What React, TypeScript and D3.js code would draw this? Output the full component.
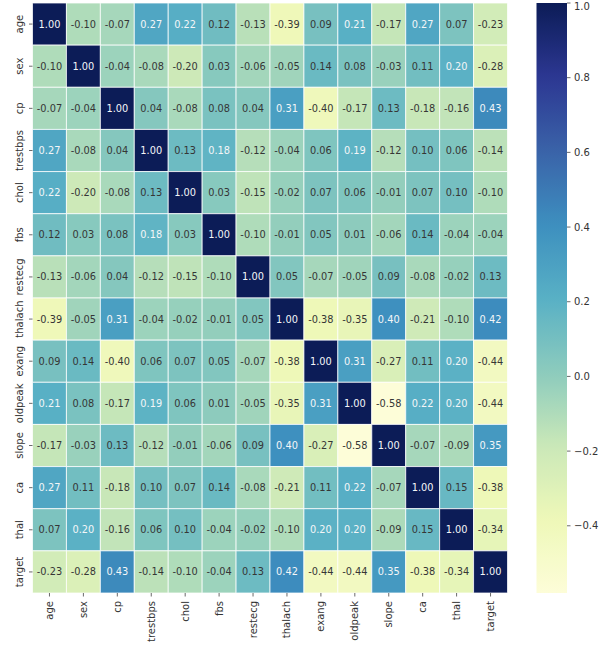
import { useEffect, useRef } from 'react'
import * as d3 from 'd3'

const features = ['age', 'sex', 'cp', 'trestbps', 'chol', 'fbs', 'restecg', 'thalach', 'exang', 'oldpeak', 'slope', 'ca', 'thal', 'target']

const corr: number[][] = [
  [1.00, -0.10, -0.07, 0.27, 0.22, 0.12, -0.13, -0.39, 0.09, 0.21, -0.17, 0.27, 0.07, -0.23],
  [-0.10, 1.00, -0.04, -0.08, -0.20, 0.03, -0.06, -0.05, 0.14, 0.08, -0.03, 0.11, 0.20, -0.28],
  [-0.07, -0.04, 1.00, 0.04, -0.08, 0.08, 0.04, 0.31, -0.40, -0.17, 0.13, -0.18, -0.16, 0.43],
  [0.27, -0.08, 0.04, 1.00, 0.13, 0.18, -0.12, -0.04, 0.06, 0.19, -0.12, 0.10, 0.06, -0.14],
  [0.22, -0.20, -0.08, 0.13, 1.00, 0.03, -0.15, -0.02, 0.07, 0.06, -0.01, 0.07, 0.10, -0.10],
  [0.12, 0.03, 0.08, 0.18, 0.03, 1.00, -0.10, -0.01, 0.05, 0.01, -0.06, 0.14, -0.04, -0.04],
  [-0.13, -0.06, 0.04, -0.12, -0.15, -0.10, 1.00, 0.05, -0.07, -0.05, 0.09, -0.08, -0.02, 0.13],
  [-0.39, -0.05, 0.31, -0.04, -0.02, -0.01, 0.05, 1.00, -0.38, -0.35, 0.40, -0.21, -0.10, 0.42],
  [0.09, 0.14, -0.40, 0.06, 0.07, 0.05, -0.07, -0.38, 1.00, 0.31, -0.27, 0.11, 0.20, -0.44],
  [0.21, 0.08, -0.17, 0.19, 0.06, 0.01, -0.05, -0.35, 0.31, 1.00, -0.58, 0.22, 0.20, -0.44],
  [-0.17, -0.03, 0.13, -0.12, -0.01, -0.06, 0.09, 0.40, -0.27, -0.58, 1.00, -0.07, -0.09, 0.35],
  [0.27, 0.11, -0.18, 0.10, 0.07, 0.14, -0.08, -0.21, 0.11, 0.22, -0.07, 1.00, 0.15, -0.38],
  [0.07, 0.20, -0.16, 0.06, 0.10, -0.04, -0.02, -0.10, 0.20, 0.20, -0.09, 0.15, 1.00, -0.34],
  [-0.23, -0.28, 0.43, -0.14, -0.10, -0.04, 0.13, 0.42, -0.44, -0.44, 0.35, -0.38, -0.34, 1.00],
]

const colorbarTicks = [-0.4, -0.2, 0.0, 0.2, 0.4, 0.6, 0.8, 1.0]

// matplotlib's YlGnBu (linear between the 9 brewer colours), used for the text colour rule
const ylgnbu = ['#ffffd9', '#edf8b1', '#c7e9b4', '#7fcdbb', '#41b6c4', '#1d91c0', '#225ea8', '#253494', '#081d58']
// same ramp, a bit washed out like the screenshot
const ylgnbuShown = ['#fdfdd8', '#eef8b8', '#cae8b8', '#8ccbbd', '#58b0c5', '#3d8fbf', '#3a62a8', '#2c3792', '#0c1c57']

const width = 600
const height = 647

export default function App() {
  const svgRef = useRef<SVGSVGElement>(null)

  useEffect(() => {
    if (!svgRef.current) return
    const svg = d3.select(svgRef.current)
    svg.selectAll('*').remove()

    const left = 32.5, right = 507.5, top = 3, bottom = 593
    const vmin = d3.min(corr.flat()) as number
    const vmax = d3.max(corr.flat()) as number

    const ramp = (stops: string[]) => d3.scaleLinear<string>()
      .domain(d3.range(stops.length).map(i => i / (stops.length - 1)))
      .range(stops)
      .interpolate(d3.interpolateRgb)
    const cmapRef = ramp(ylgnbu)
    const cmap = ramp(ylgnbuShown)
    const norm = d3.scaleLinear().domain([vmin, vmax]).range([0, 1]).clamp(true)
    const color = (v: number) => cmap(norm(v))

    const luminance = (c: string) => {
      const rgb = d3.rgb(c)
      const lin = [rgb.r, rgb.g, rgb.b].map(v => {
        const s = v / 255
        return s <= 0.03928 ? s / 12.92 : Math.pow((s + 0.055) / 1.055, 2.4)
      })
      return 0.2126 * lin[0] + 0.7152 * lin[1] + 0.0722 * lin[2]
    }

    const x = d3.scaleBand<string>().domain(features).range([left, right])
    const y = d3.scaleBand<string>().domain(features).range([top, bottom])

    const cells = corr.flatMap((row, i) => row.map((v, j) => ({ r: features[i], c: features[j], v })))

    const g = svg.append('g')
    g.selectAll('rect.cell')
      .data(cells)
      .enter().append('rect')
      .attr('class', 'cell')
      .attr('x', d => x(d.c)!)
      .attr('y', d => y(d.r)!)
      .attr('width', x.bandwidth())
      .attr('height', y.bandwidth())
      .attr('fill', d => color(d.v))
      .attr('stroke', '#fff')
      .attr('stroke-opacity', 0.75)
      .attr('stroke-width', 1)

    g.selectAll('text.annot')
      .data(cells)
      .enter().append('text')
      .attr('class', 'annot')
      .attr('x', d => x(d.c)! + x.bandwidth() / 2)
      .attr('y', d => y(d.r)! + y.bandwidth() / 2)
      .attr('text-anchor', 'middle')
      .attr('dominant-baseline', 'central')
      .style('font-family', 'DejaVu Sans, sans-serif')
      .style('font-size', '9.8px')
      .style('fill', d => luminance(cmapRef(norm(d.v))) > 0.408 ? '#363636' : '#f4f6f8')
      .text(d => d.v.toFixed(2))

    // y axis
    const yAxis = svg.append('g')
    features.forEach(f => {
      const cy = y(f)! + y.bandwidth() / 2
      yAxis.append('line')
        .attr('x1', left - 3.5).attr('x2', left)
        .attr('y1', cy).attr('y2', cy)
        .attr('stroke', '#444').attr('stroke-width', 0.8)
      yAxis.append('text')
        .attr('transform', `translate(${left - 7},${cy}) rotate(-90)`)
        .attr('text-anchor', 'middle')
        .attr('dy', '-0.25em')
        .style('font-family', 'DejaVu Sans, sans-serif')
        .style('font-size', '10px')
        .style('fill', '#333')
        .text(f)
    })

    // x axis
    const xAxis = svg.append('g')
    features.forEach(f => {
      const cx = x(f)! + x.bandwidth() / 2
      xAxis.append('line')
        .attr('x1', cx).attr('x2', cx)
        .attr('y1', bottom).attr('y2', bottom + 3.5)
        .attr('stroke', '#444').attr('stroke-width', 0.8)
      xAxis.append('text')
        .attr('transform', `translate(${cx},${bottom + 8}) rotate(-90)`)
        .attr('text-anchor', 'end')
        .attr('dominant-baseline', 'central')
        .style('font-family', 'DejaVu Sans, sans-serif')
        .style('font-size', '10px')
        .style('fill', '#333')
        .text(f)
    })

    // colorbar
    const cbLeft = 536.5, cbRight = 567
    const cbScale = d3.scaleLinear().domain([vmin, vmax]).range([bottom, top])
    const defs = svg.append('defs')
    const grad = defs.append('linearGradient')
      .attr('id', 'cbgrad')
      .attr('x1', 0).attr('y1', 1).attr('x2', 0).attr('y2', 0)
    d3.range(0, 1.0001, 0.02).forEach(t => {
      grad.append('stop')
        .attr('offset', t)
        .attr('stop-color', cmap(t))
    })
    svg.append('rect')
      .attr('x', cbLeft).attr('y', top)
      .attr('width', cbRight - cbLeft).attr('height', bottom - top)
      .attr('fill', 'url(#cbgrad)')

    const cb = svg.append('g')
    colorbarTicks.forEach(t => {
      const ty = cbScale(t)
      cb.append('line')
        .attr('x1', cbRight).attr('x2', cbRight + 3.5)
        .attr('y1', ty).attr('y2', ty)
        .attr('stroke', '#444').attr('stroke-width', 0.8)
      cb.append('text')
        .attr('x', cbRight + 7)
        .attr('y', Math.max(ty, 6))
        .attr('dominant-baseline', 'central')
        .style('font-family', 'DejaVu Sans, sans-serif')
        .style('font-size', '10px')
        .style('fill', '#333')
        .text(t < 0 ? '\u2212' + Math.abs(t).toFixed(1) : t.toFixed(1))
    })
  }, [])

  return (
    <svg
      ref={svgRef}
      width={width}
      height={height}
      style={{ position: 'absolute', left: 0, top: 0, background: '#fff' }}
    />
  )
}
